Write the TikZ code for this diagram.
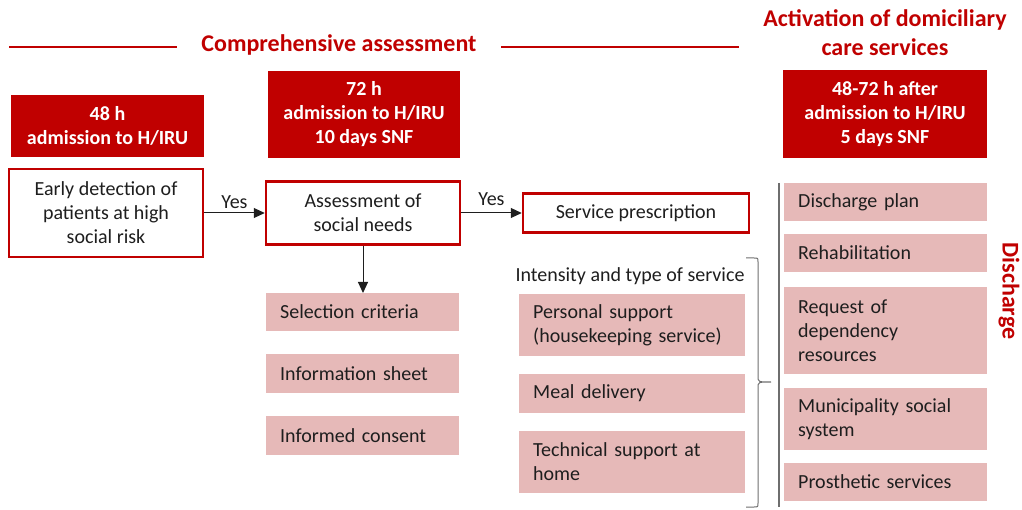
\documentclass[tikz,border=0pt]{standalone}
\usepackage{fontspec}
\setmainfont{Carlito}
\usetikzlibrary{arrows.meta,positioning}
\definecolor{acred}{HTML}{C00000}
\definecolor{acpink}{HTML}{E6B9B8}
\definecolor{acgray}{HTML}{6E6E6E}
\definecolor{actext}{HTML}{1E1E1E}

\begin{document}
\begin{tikzpicture}[x=1pt,y=-1pt,
  hdr/.style={fill=acred,text=white,font=\fontsize{20}{24}\selectfont\bfseries,align=center,inner sep=0pt},
  stage/.style={draw=acred,line width=2.5pt,fill=white,text=actext,font=\fontsize{20}{24}\selectfont,align=center,inner sep=0pt},
  item/.style={fill=acpink,text=actext,font=\fontsize{20}{24}\selectfont,align=left,inner xsep=14pt,inner ysep=0pt,anchor=west},
  ttl/.style={text=acred,font=\fontsize{24}{29}\selectfont\bfseries,align=center},
  lbl/.style={text=actext,font=\fontsize{20}{24}\selectfont},
  arr/.style={-{Triangle[length=11pt,width=10pt]},line width=1pt,actext}
]
\useasboundingbox (0,0) rectangle (1022,510);

% titles
\node[ttl] (ttl1) at (339,45) {Comprehensive assessment};
\node[ttl] (ttl2) at (885,33) {Activation of domiciliary\\care services};
\draw[acred,line width=1.3pt] (9,47) -- (177,47);
\draw[acred,line width=1.3pt] (501,47) -- (739,47);
\node[ttl,rotate=-90] (dsch) at (1009,291) {Discharge};

% time headers
\node[hdr,minimum width=193pt,minimum height=62pt] (h1) at (107.5,126) {48 h\\admission to H/IRU};
\node[hdr,minimum width=192pt,minimum height=87pt] (h2) at (364,114.5) {72 h\\admission to H/IRU\\10 days SNF};
\node[hdr,minimum width=204pt,minimum height=88pt] (h3) at (885,114) {48-72 h after\\admission to H/IRU\\5 days SNF};

% main steps
\node[stage,minimum width=194pt,minimum height=88pt] (early) at (106,213) {Early detection of\\patients at high\\social risk};
\node[stage,minimum width=194pt,minimum height=63pt] (assess) at (363,213) {Assessment of\\social needs};
\node[stage,minimum width=226pt,minimum height=39pt] (presc) at (636,213) {Service prescription};

\draw[arr] (early) -- node[lbl,above=1pt] (yes1) {Yes} (assess);
\draw[arr] (assess) -- node[lbl,above=4pt] (yes2) {Yes} (presc);
\draw[arr] (assess.south) -- (assess.south |- 0,293);

% assessment tools
\node[item,text width=165pt,minimum height=38pt] (sel) at (266,312) {Selection criteria};
\node[item,text width=165pt,minimum height=39pt] (info) at (266,373.5) {Information sheet};
\node[item,text width=165pt,minimum height=39pt] (cons) at (266,435.5) {Informed consent};

% services
\node[lbl] (inten) at (630,276) {Intensity and type of service};
\node[item,text width=198pt,minimum height=62pt] (pers) at (519,325) {Personal support\\(housekeeping service)};
\node[item,text width=198pt,minimum height=39pt] (meal) at (519,393.5) {Meal delivery};
\node[item,text width=198pt,minimum height=62pt] (tech) at (519,462) {Technical support at\\home};

\coordinate (bt) at (746,258);
\draw[acgray,line width=1pt] (bt) -- ++(8,0) .. controls ++(4,0) .. ++(4,4) -- ++(0,114)
  .. controls ++(0,6) .. ++(13,6) .. controls ++(-13,0) .. ++(-13,6) -- ++(0,115)
  .. controls ++(0,4) .. ++(-4,4) -- ++(-8,0);

% discharge
\coordinate (vt) at (779,183);
\coordinate (vb) at (779,507);
\draw[acgray,line width=1.2pt] (vt) -- (vb);

\node[item,text width=175pt,minimum height=38pt] (dplan) at (784,202) {Discharge plan};
\node[item,text width=175pt,minimum height=38pt] (rehab) at (784,253) {Rehabilitation};
\node[item,text width=175pt,minimum height=87pt] (req) at (784,330.5) {Request of\\dependency\\resources};
\node[item,text width=175pt,minimum height=62pt] (muni) at (784,419) {Municipality social\\system};
\node[item,text width=175pt,minimum height=38pt] (pros) at (784,482) {Prosthetic services};
\end{tikzpicture}
\end{document}
